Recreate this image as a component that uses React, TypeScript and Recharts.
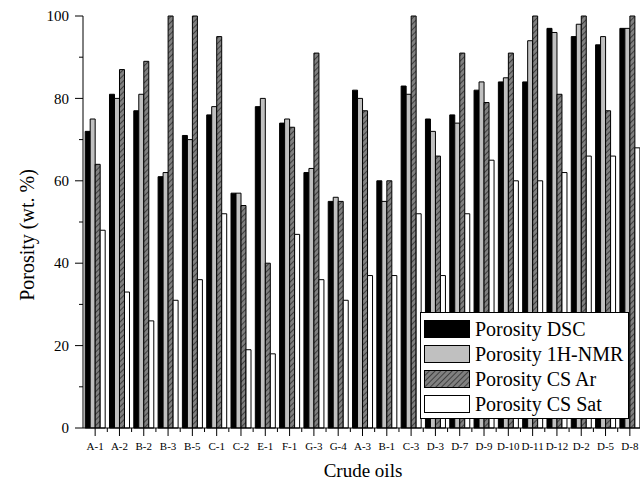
import { BarChart, Bar, XAxis, YAxis, Legend } from 'recharts';

const categories = ['A-1', 'A-2', 'B-2', 'B-3', 'B-5', 'C-1', 'C-2', 'E-1', 'F-1', 'G-3', 'G-4', 'A-3', 'B-1', 'C-3', 'D-3', 'D-7', 'D-9', 'D-10', 'D-11', 'D-12', 'D-2', 'D-5', 'D-8'];
const porosityDSC = [72, 81, 77, 61, 71, 76, 57, 78, 74, 62, 55, 82, 60, 83, 75, 76, 82, 84, 84, 97, 95, 93, 97];
const porosityNMR = [75, 80, 81, 62, 70, 78, 57, 80, 75, 63, 56, 80, 55, 81, 72, 74, 84, 85, 94, 96, 98, 95, 97];
const porosityCSAr = [64, 87, 89, 100, 100, 95, 54, 40, 73, 91, 55, 77, 60, 100, 66, 91, 79, 91, 100, 81, 100, 77, 100];
const porosityCSSat = [48, 33, 26, 31, 36, 52, 19, 18, 47, 36, 31, 37, 37, 52, 37, 52, 65, 60, 60, 62, 66, 66, 68];
const yTicks = [0, 10, 20, 30, 40, 50, 60, 70, 80, 90, 100];

const data = categories.map((name, i) => ({
  name,
  dsc: porosityDSC[i],
  nmr: porosityNMR[i],
  ar: porosityCSAr[i],
  sat: porosityCSSat[i],
}));

const FONT = '"Liberation Serif", "Times New Roman", serif';

const series = [
  { key: 'dsc', label: 'Porosity DSC', fill: '#000000' },
  { key: 'nmr', label: 'Porosity 1H-NMR', fill: '#c0c0c0' },
  { key: 'ar', label: 'Porosity CS Ar', fill: 'url(#hatch)' },
  { key: 'sat', label: 'Porosity CS Sat', fill: '#ffffff' },
];

// bottom axis: long tick at the category, short one at the band edge
function XTick(props: any) {
  const { x, y, payload } = props;
  const half = payload.offset ?? 12.15;
  return (
    <g>
      <line x1={x} y1={y} x2={x} y2={y + 8} stroke="#000" />
      <line x1={x + half} y1={y} x2={x + half} y2={y + 4} stroke="#000" />
      <text x={x} y={y + 22} textAnchor="middle" fontSize={11} fontFamily={FONT} fill="#000">
        {payload.value}
      </text>
    </g>
  );
}

function TopTick(props: any) {
  const { x, y, payload } = props;
  const half = payload.offset ?? 12.15;
  return (
    <g>
      <line x1={x} y1={y} x2={x} y2={y + 3} stroke="#000" />
      <line x1={x + half} y1={y} x2={x + half} y2={y + 3} stroke="#000" />
    </g>
  );
}

function YTick(props: any) {
  const { x, y, payload } = props;
  const major = payload.value % 20 === 0;
  return (
    <g>
      <line x1={x} y1={y} x2={x - (major ? 8 : 4)} y2={y} stroke="#000" />
      {major && (
        <text x={x - 14} y={y} dy="0.35em" textAnchor="end" fontSize={15} fontFamily={FONT} fill="#000">
          {payload.value}
        </text>
      )}
    </g>
  );
}

function LegendBox() {
  return (
    <div
      style={{
        border: '1px solid #000',
        background: '#fff',
        padding: '3px 0 2px 3px',
        fontFamily: FONT,
        fontSize: 20,
        color: '#000',
        boxSizing: 'border-box',
      }}
    >
      {series.map((s) => (
        <div key={s.key} style={{ display: 'flex', alignItems: 'center', height: 25 }}>
          <svg width={46} height={18} style={{ display: 'block' }}>
            <defs>
              <pattern id="hatchLegend" patternUnits="userSpaceOnUse" width={4} height={4} patternTransform="rotate(45)">
                <rect width={4} height={4} fill="#808080" />
                <line x1={0} y1={0} x2={0} y2={4} stroke="#000" strokeWidth={1} />
              </pattern>
            </defs>
            <rect
              x={0.5}
              y={0.5}
              width={45}
              height={17}
              fill={s.key === 'ar' ? 'url(#hatchLegend)' : s.fill}
              stroke="#000"
            />
          </svg>
          <span style={{ marginLeft: 5, lineHeight: '20px' }}>{s.label}</span>
        </div>
      ))}
    </div>
  );
}

export default function App() {
  return (
    <div style={{ position: 'absolute', left: 0, top: 0, width: 640, height: 489, overflow: 'hidden', background: '#fff' }}>
      <svg width={0} height={0} style={{ position: 'absolute' }}>
        <defs>
          <pattern id="hatch" patternUnits="userSpaceOnUse" width={4} height={4} patternTransform="rotate(45)">
            <rect width={4} height={4} fill="#808080" />
            <line x1={0} y1={0} x2={0} y2={4} stroke="#000" strokeWidth={1} />
          </pattern>
        </defs>
      </svg>
      <BarChart
        width={642}
        height={489}
        data={data}
        margin={{ top: 16, right: 0, bottom: 0, left: 0 }}
        barCategoryGap="9%"
        barGap={0}
      >
        <XAxis
          xAxisId="top"
          orientation="top"
          dataKey="name"
          height={0}
          axisLine={{ stroke: '#000' }}
          tickLine={false}
          tickSize={0}
          tickMargin={0}
          tick={<TopTick />}
          interval={0}
        />
        <XAxis
          xAxisId="cat"
          dataKey="name"
          height={61}
          axisLine={{ stroke: '#000' }}
          tickLine={false}
          tickSize={0}
          tickMargin={0}
          tick={<XTick />}
          interval={0}
          label={{
            content: () => (
              <text x={363} y={477} textAnchor="middle" fontSize={19} fontFamily={FONT} fill="#000">
                Crude oils
              </text>
            ),
          }}
        />
        <YAxis
          width={83}
          domain={[0, 100]}
          ticks={yTicks}
          interval={0}
          axisLine={{ stroke: '#000' }}
          tickLine={false}
          tickSize={0}
          tickMargin={0}
          tick={<YTick />}
          label={{
            content: () => (
              <text
                x={27}
                y={235}
                transform="rotate(-90 27 235)"
                textAnchor="middle"
                dominantBaseline="central"
                fontSize={20}
                fontFamily={FONT}
                fill="#000"
              >
                Porosity (wt. %)
              </text>
            ),
          }}
        />
        {series.map((s) => (
          <Bar
            key={s.key}
            xAxisId="cat"
            dataKey={s.key}
            name={s.label}
            fill={s.fill}
            stroke="#000"
            strokeWidth={1}
            isAnimationActive={false}
          />
        ))}
        <Legend
          layout="horizontal"
          verticalAlign="middle"
          align="center"
          content={<LegendBox />}
          wrapperStyle={{ left: 420, top: 312, width: 209 }}
        />
      </BarChart>
    </div>
  );
}
